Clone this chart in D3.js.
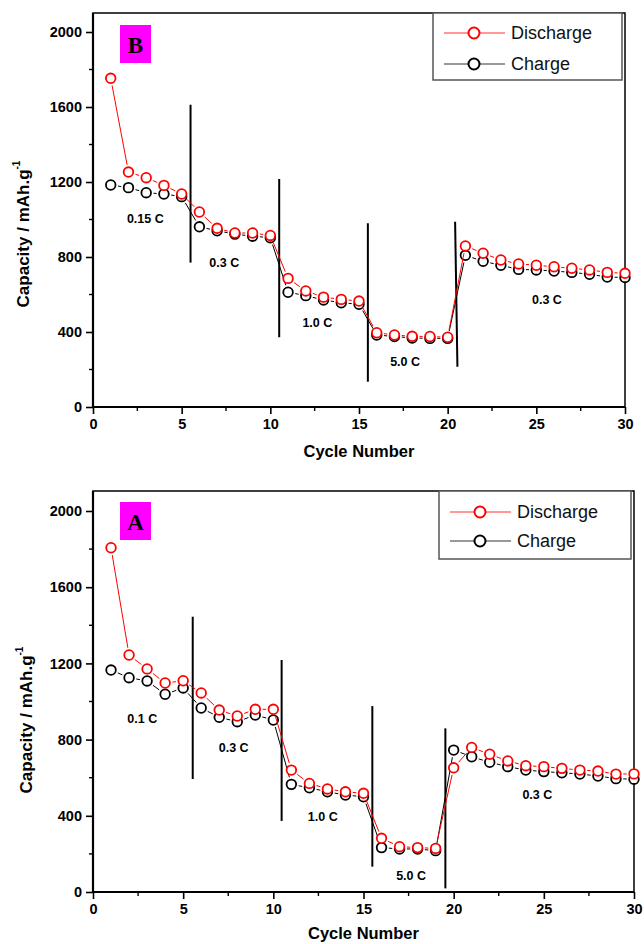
<!DOCTYPE html>
<html>
<head>
<meta charset="utf-8">
<script src="https://cdn.jsdelivr.net/npm/d3@7"></script>
<style>
  body { margin: 0; background: white; }
  svg { display: block; }
</style>
</head>
<body>
<script>
// cycle numbers (x values)
const cycles = [1,2,3,4,5,6,7,8,9,10,11,12,13,14,15,16,17,18,19,20,21,22,23,24,25,26,27,28,29,30];

// Panel B (top)
const dischargeB = [1753,1253,1223,1182,1136,1040,953,928,928,915,686,619,586,574,565,396,384,377,376,372,859,820,784,763,756,748,740,731,718,713];
const chargeB    = [1184,1170,1143,1136,1122,961,940,922,911,903,612,594,571,556,548,384,376,368,366,366,809,777,756,734,731,725,718,708,693,691];
// rate change markers: [x top, x bottom, y top, y bottom]
const dividersB = [[5.5,5.5,1612,770],[10.5,10.5,1216,372],[15.5,15.5,980,135],[20.42,20.55,988,215]];
const ratesB = ["0.15 C","0.3 C","1.0 C","5.0 C","0.3 C"];
const rateXB = [2.95,7.4,12.65,17.6,25.6];
const rateYB = [1003,770,451,242,574];

// Panel A (bottom)
const dischargeA = [1807,1244,1171,1097,1109,1045,955,924,959,959,640,570,541,526,518,282,238,233,229,652,759,723,688,663,658,649,640,635,619,620];
const chargeA    = [1165,1125,1108,1038,1071,966,917,894,929,903,565,547,526,509,500,233,226,226,217,745,710,681,658,640,632,626,619,609,595,592];
const dividersA = [[5.53,5.53,1445,593],[10.46,10.46,1218,373],[15.49,15.49,976,133],[19.54,19.54,859,19]];
const ratesA = ["0.1 C","0.3 C","1.0 C","5.0 C","0.3 C"];
const rateXA = [2.73,7.8,12.74,17.64,24.64];
const rateYA = [908,757,395,86,509];

const yTicks = [0,400,800,1200,1600,2000];
const yMinor = [200,600,1000,1400,1800];
const xTicks = [0,5,10,15,20,25,30];
const xMinor = [2.5,7.5,12.5,17.5,22.5,27.5];

const W = 644, H = 944;
const R = 4.8;   // marker radius
const svg = d3.select("body").append("svg")
    .attr("width", W)
    .attr("height", H)
    .style("font-family", "Liberation Sans, Arial, Helvetica, sans-serif");

function drawPanel(cfg) {
  const x = d3.scaleLinear().domain([0, 30]).range([cfg.left, cfg.right]);
  const y = d3.scaleLinear().domain([0, 2000]).range([cfg.bottom, cfg.y2000]);
  const g = svg.append("g");

  // axes
  const yAxis = d3.axisLeft(y).tickValues(yTicks).tickSize(7).tickPadding(4).tickFormat(d3.format("d"));
  const xAxis = d3.axisBottom(x).tickValues(xTicks).tickSize(7).tickPadding(5).tickFormat(d3.format("d"));
  const ya = g.append("g").attr("transform", `translate(${cfg.left},0)`).call(yAxis);
  const xa = g.append("g").attr("transform", `translate(0,${cfg.bottom})`).call(xAxis);
  [ya, xa].forEach(a => {
    a.select(".domain").remove();
    a.selectAll(".tick line").attr("stroke", "#000").attr("stroke-width", 1.6);
    a.selectAll("text").attr("fill", "#000").attr("font-size", 14.5).attr("font-weight", "bold");
  });
  // minor ticks
  g.append("g").selectAll("line").data(yMinor).join("line")
      .attr("x1", cfg.left - 4).attr("x2", cfg.left)
      .attr("y1", d => y(d)).attr("y2", d => y(d))
      .attr("stroke", "#000").attr("stroke-width", 1.4);
  g.append("g").selectAll("line").data(xMinor).join("line")
      .attr("x1", d => x(d)).attr("x2", d => x(d))
      .attr("y1", cfg.bottom).attr("y2", cfg.bottom + 4)
      .attr("stroke", "#000").attr("stroke-width", 1.4);

  // frame
  g.append("rect")
      .attr("x", cfg.left).attr("y", cfg.top)
      .attr("width", cfg.right - cfg.left).attr("height", cfg.bottom - cfg.top)
      .attr("fill", "none").attr("stroke", "#000").attr("stroke-width", 1.5);
  g.append("line").attr("x1", cfg.left).attr("x2", cfg.left).attr("y1", cfg.top).attr("y2", cfg.bottom + 1)
      .attr("stroke", "#000").attr("stroke-width", 2.2);
  g.append("line").attr("x1", cfg.left - 1).attr("x2", cfg.right).attr("y1", cfg.bottom).attr("y2", cfg.bottom)
      .attr("stroke", "#000").attr("stroke-width", 2.2);

  // axis titles
  g.append("text")
      .attr("x", (cfg.left + cfg.right) / 2).attr("y", cfg.bottom + cfg.xlabOff)
      .attr("text-anchor", "middle").attr("font-size", 16.5).attr("font-weight", "bold")
      .text("Cycle Number");
  const yl = g.append("text")
      .attr("transform", `translate(${cfg.ylabX},${cfg.ylabY}) rotate(-90)`)
      .attr("text-anchor", "middle").attr("font-size", 17).attr("font-weight", "bold");
  yl.append("tspan").text("Capacity / mAh.g");
  yl.append("tspan").attr("dy", -9).attr("font-size", 10).text("-1");

  // rate divider lines
  g.append("g").selectAll("line").data(cfg.dividers).join("line")
      .attr("x1", d => x(d[0])).attr("x2", d => x(d[1]))
      .attr("y1", d => y(d[2])).attr("y2", d => y(d[3]))
      .attr("stroke", "#000").attr("stroke-width", 2);

  // rate labels
  g.append("g").selectAll("text").data(cfg.rates).join("text")
      .attr("x", (d, i) => x(cfg.rateX[i]))
      .attr("y", (d, i) => y(cfg.rateY[i]))
      .attr("dy", "0.35em")
      .attr("text-anchor", "middle").attr("font-size", 12.5).attr("font-weight", "bold")
      .text(d => d);

  // series: segments stop short of the markers (Origin style)
  const series = [
    { vals: cfg.charge, color: "#000000" },
    { vals: cfg.discharge, color: "#ff0000" }
  ];
  const gap = R + 2.5;
  series.forEach(s => {
    const pts = s.vals.map((v, i) => [x(cycles[i]), y(v)]);
    const segs = d3.pairs(pts).map(([a, b]) => {
      const dx = b[0] - a[0], dy = b[1] - a[1];
      const len = Math.hypot(dx, dy);
      if (len <= 2 * gap) return null;
      const ux = dx / len, uy = dy / len;
      return [a[0] + ux * gap, a[1] + uy * gap, b[0] - ux * gap, b[1] - uy * gap];
    }).filter(d => d);
    g.append("g").selectAll("line").data(segs).join("line")
        .attr("x1", d => d[0]).attr("y1", d => d[1])
        .attr("x2", d => d[2]).attr("y2", d => d[3])
        .attr("stroke", s.color).attr("stroke-width", 1);
    g.append("g").selectAll("circle").data(pts).join("circle")
        .attr("cx", d => d[0]).attr("cy", d => d[1])
        .attr("r", R).attr("fill", "white")
        .attr("stroke", s.color).attr("stroke-width", 1.8);
  });

  // panel letter
  g.append("rect").attr("x", cfg.left + 27).attr("y", cfg.letterY)
      .attr("width", 31).attr("height", 38).attr("fill", "#ff00ff");
  g.append("text").attr("x", cfg.left + 42.5).attr("y", cfg.letterY + 28)
      .attr("text-anchor", "middle").attr("font-family", "Liberation Serif, Times New Roman, serif")
      .attr("font-size", 23).attr("font-weight", "bold").text(cfg.letter);

  // legend
  const lg = g.append("g");
  lg.append("rect").attr("x", cfg.legX).attr("y", cfg.top)
      .attr("width", cfg.right - 3 - cfg.legX).attr("height", cfg.legH)
      .attr("fill", "white").attr("stroke", "#555").attr("stroke-width", 1.5);
  const legItems = [["Discharge", "#ff0000"], ["Charge", "#000000"]];
  legItems.forEach((it, i) => {
    const ly = cfg.top + cfg.legRow0 + i * cfg.legStep;
    lg.append("line").attr("x1", cfg.legX + 11).attr("x2", cfg.legX + 72)
        .attr("y1", ly).attr("y2", ly)
        .attr("stroke", it[1]).attr("stroke-width", 1).attr("stroke-opacity", 0.8);
    lg.append("circle").attr("cx", cfg.legX + 41).attr("cy", ly).attr("r", 5.5)
        .attr("fill", "white").attr("stroke", it[1]).attr("stroke-width", 2);
    lg.append("text").attr("x", cfg.legX + 78).attr("y", ly).attr("dy", "0.35em")
        .attr("font-size", 18).attr("fill", "#111").text(it[0]);
  });
}

drawPanel({
  left: 93, right: 625, top: 13, bottom: 407, y2000: 32,
  discharge: dischargeB, charge: chargeB,
  dividers: dividersB, rates: ratesB, rateX: rateXB, rateY: rateYB,
  letter: "B", letterY: 25,
  legX: 433, legH: 67, legRow0: 20, legStep: 31,
  ylabX: 29, ylabY: 234, xlabOff: 50
});

drawPanel({
  left: 93, right: 634, top: 491, bottom: 892, y2000: 511,
  discharge: dischargeA, charge: chargeA,
  dividers: dividersA, rates: ratesA, rateX: rateXA, rateY: rateYA,
  letter: "A", letterY: 502,
  legX: 439, legH: 68, legRow0: 21, legStep: 29,
  ylabX: 32, ylabY: 720, xlabOff: 47
});
</script>
</body>
</html>
